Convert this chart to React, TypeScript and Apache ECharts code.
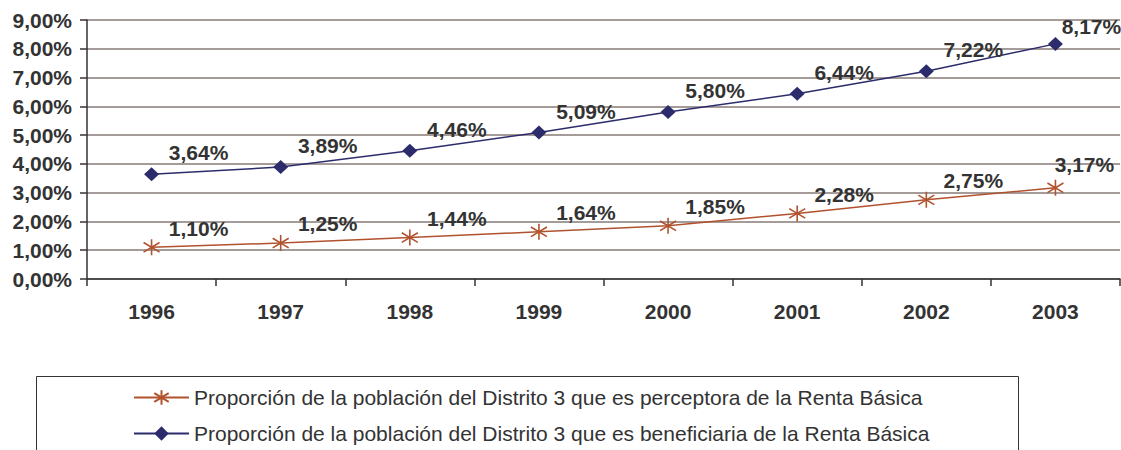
import React, { useEffect, useRef } from "react";
import * as echarts from "echarts";

const years = ["1996", "1997", "1998", "1999", "2000", "2001", "2002", "2003"];
const perceptora = [1.1, 1.25, 1.44, 1.64, 1.85, 2.28, 2.75, 3.17];
const beneficiaria = [3.64, 3.89, 4.46, 5.09, 5.8, 6.44, 7.22, 8.17];
const seriesNames = [
  "Proporción de la población del Distrito 3 que es perceptora de la Renta Básica",
  "Proporción de la población del Distrito 3 que es beneficiaria de la Renta Básica",
];

const BROWN = "#B1522E";
const NAVY = "#2C2C6C";
const TEXT = "#333333";
const FONT = "'Liberation Sans', Arial, sans-serif";

const fmt = (v: number) => v.toFixed(2).replace(".", ",") + "%";

const ASTERISK = "path://M0,-10L0,10M-8.7,-6L8.7,6M-8.7,6L8.7,-6";

function withLastOffset(values: number[], lastOffset: number[]) {
  return values.map((v, i) =>
    i === values.length - 1 ? { value: v, label: { offset: lastOffset } } : v
  );
}

function labelStyle(offset: number[]) {
  return {
    show: true,
    position: "top" as const,
    distance: 5,
    offset,
    formatter: (p: any) => fmt(p.value),
    color: TEXT,
    fontFamily: FONT,
    fontWeight: "bold" as const,
    fontSize: 21,
  };
}

export default function App() {
  const ref = useRef<HTMLDivElement>(null);
  useEffect(() => {
    if (!ref.current) return;
    const chart = echarts.init(ref.current, undefined, { renderer: "svg" });
    chart.setOption({
      animation: false,
      backgroundColor: "#ffffff",
      grid: { left: 87, right: 1, top: 20, bottom: 171, containLabel: false },
      xAxis: {
        type: "category",
        data: years,
        boundaryGap: true,
        axisLine: { lineStyle: { color: TEXT, width: 1.5 } },
        axisTick: { show: true, length: 7, alignWithLabel: false, lineStyle: { color: TEXT, width: 1.5 } },
        axisLabel: {
          color: TEXT,
          fontFamily: FONT,
          fontWeight: "bold",
          fontSize: 21,
          margin: 22,
        },
        splitLine: { show: false },
      },
      yAxis: {
        type: "value",
        min: 0,
        max: 9,
        interval: 1,
        axisLine: { show: true, lineStyle: { color: TEXT, width: 1.5 } },
        axisTick: { show: true, length: 7, lineStyle: { color: TEXT, width: 1.5 } },
        axisLabel: {
          color: TEXT,
          fontFamily: FONT,
          fontWeight: "bold",
          fontSize: 21,
          margin: 15,
          formatter: (v: number) => fmt(v),
        },
        splitLine: { show: true, lineStyle: { color: "#A59B98", width: 2 } },
      },
      legend: {
        orient: "vertical",
        left: 128,
        top: 382,
        itemWidth: 55,
        itemHeight: 18,
        itemGap: 15,
        textStyle: { color: TEXT, fontFamily: FONT, fontSize: 21 },
        data: seriesNames,
      },
      graphic: [
        {
          type: "rect",
          shape: { x: 36.5, y: 376.5, width: 982, height: 90 },
          style: { fill: "none", stroke: "#333333", lineWidth: 1 },
          z: -1,
        },
      ],
      series: [
        {
          name: seriesNames[0],
          type: "line",
          data: withLastOffset(perceptora, [29, 1]),
          symbol: ASTERISK,
          symbolSize: 16,
          itemStyle: { color: BROWN, borderColor: BROWN, borderWidth: 1.6 },
          lineStyle: { color: BROWN, width: 1.5 },
          label: labelStyle([47, 5]),
        },
        {
          name: seriesNames[1],
          type: "line",
          data: withLastOffset(beneficiaria, [36, 5]),
          symbol: "diamond",
          symbolSize: [15, 14],
          itemStyle: { color: NAVY },
          lineStyle: { color: NAVY, width: 1.5 },
          label: labelStyle([47, 1]),
        },
      ],
    });
    return () => chart.dispose();
  }, []);
  return (
    <div
      ref={ref}
      style={{ position: "fixed", left: 0, top: 0, width: 1121, height: 450 }}
    />
  );
}
